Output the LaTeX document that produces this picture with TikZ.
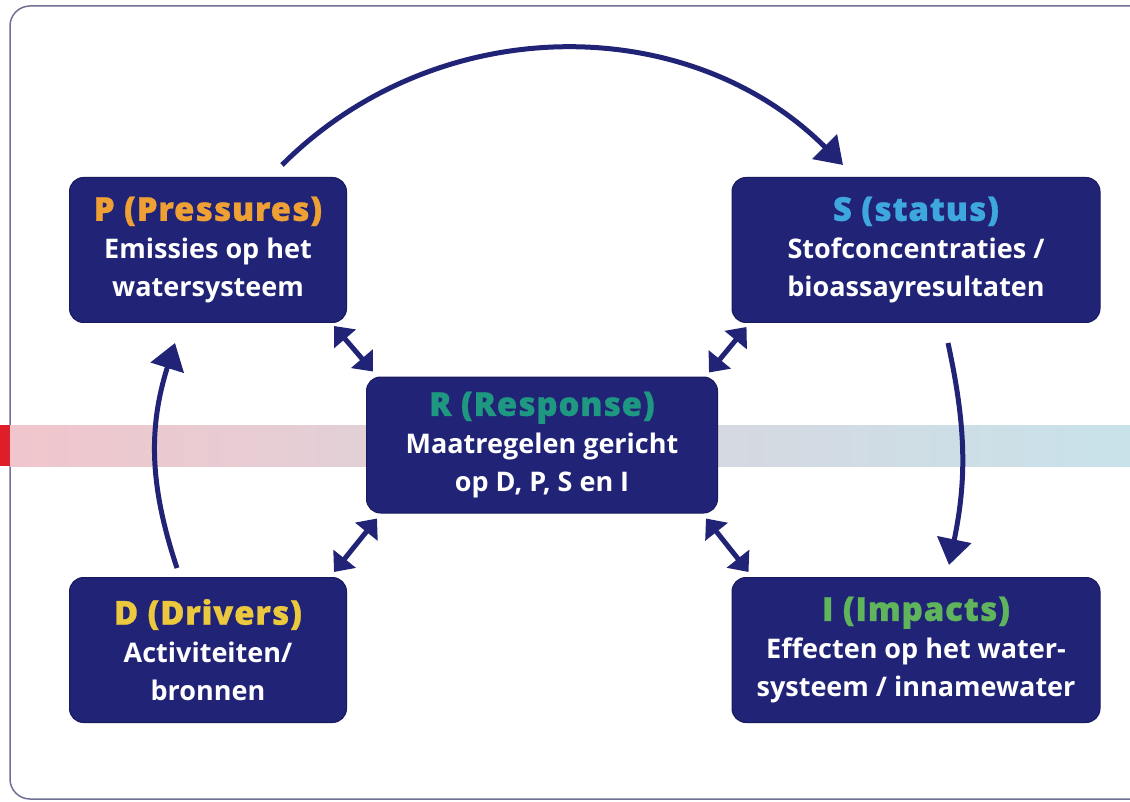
\documentclass[tikz,border=0pt]{standalone}
\usepackage{fontspec}
\setmainfont{Open Sans}
\IfFontExistsTF{Open Sans ExtraBold}
    {\newfontfamily\titlefont{Open Sans ExtraBold}[LetterSpace=2]\newcommand\titlestyle{\titlefont\fontsize{32}{38}\selectfont}}
    {\IfFontExistsTF{Open Sans Bold}
        {\newfontfamily\titlefont{Open Sans Bold}[LetterSpace=2.5, FakeBold=0.8]\newcommand\titlestyle{\titlefont\fontsize{33}{38}\selectfont}}
        {\newfontfamily\titlefont{Open Sans}[LetterSpace=3]\newcommand\titlestyle{\titlefont\bfseries\fontsize{33}{38}\selectfont}}}
\usetikzlibrary{arrows.meta,positioning}
\definecolor{dpsir-navy}{RGB}{33, 36, 118}
\definecolor{dpsir-edge}{RGB}{24, 26, 92}
\definecolor{dpsir-frame}{RGB}{112, 112, 150}
\definecolor{dpsir-orange}{RGB}{238, 160, 52}
\definecolor{dpsir-blue}{RGB}{62, 168, 222}
\definecolor{dpsir-teal}{RGB}{30, 152, 128}
\definecolor{dpsir-yellow}{RGB}{236, 200, 62}
\definecolor{dpsir-green}{RGB}{96, 180, 92}
\definecolor{bar-red}{RGB}{222, 30, 40}
\definecolor{bar-pink}{RGB}{240, 198, 204}
\definecolor{bar-grey}{RGB}{214, 216, 224}
\definecolor{bar-blue}{RGB}{200, 226, 234}

\begin{document}
\begin{tikzpicture}[
        x=1pt, y=-1pt,
        box/.style={draw=dpsir-edge, fill=dpsir-navy, line width=1pt, rounded corners=14pt, minimum height=145pt, align=center, text=white, inner sep=0pt, font=\bfseries\fontsize{27}{38}\selectfont},
        flow/.style={-{Triangle[length=26pt, width=34pt]}, line width=5pt, dpsir-navy},
        twoway/.style={{Triangle[length=17pt, width=28pt]}-{Triangle[length=17pt, width=28pt]}, line width=5pt, dpsir-navy}
    ]
        \useasboundingbox (0,0) rectangle (1130,802);
        
        % Background frame and bar
        \draw[dpsir-frame, line width=1.5pt, rounded corners=20pt] (10,6) rectangle (1160,799);
        \fill[bar-red] (0,425) rectangle (10,466);
        \shade[left color=bar-pink, right color=bar-grey] (10,425) rectangle (700,466);
        \shade[left color=bar-grey, right color=bar-blue] (700,425) rectangle (1130,466);
        
        % DPSIR boxes
        \node[box, minimum width=277pt] (P) at (208,250) {{\titlestyle\color{dpsir-orange}P (Pressures)}\\Emissies op het\\watersysteem};
        \node[box, minimum width=368pt] (S) at (916,250) {{\titlestyle\color{dpsir-blue}S (status)}\\Stofconcentraties /\\bioassayresultaten};
        \node[box, minimum width=351pt, minimum height=136pt] (R) at (542,445) {{\titlestyle\color{dpsir-teal}R (Response)}\\Maatregelen gericht\\op D, P, S en I};
        \node[box, minimum width=277pt] (D) at (208,650) {{\titlestyle\color{dpsir-yellow}D (Drivers)}\\Activiteiten/\\bronnen};
        \node[box, minimum width=368pt] (I) at (916,650) {{\titlestyle\color{dpsir-green}I (Impacts)}\\Effecten op het water-\\systeem / innamewater};
        
        % Main cycle
        \draw[flow] ([shift={(74,-12)}]P.north) to[bend left=45] ([shift={(-73,-12)}]S.north);
        \draw[flow] ([shift={(32,20)}]S.south) to[bend left=12] ([shift={(33,-12)}]I.north);
        \draw[flow] ([shift={(-31,-9)}]D.north) to[bend left=18] ([shift={(-33,20)}]P.south);
        
        % Links with the response
        \draw[twoway] ([shift={(-13,3)}]P.south east) -- ([shift={(7,-5)}]R.north west);
        \draw[twoway] ([shift={(15,4)}]S.south west) -- ([shift={(-9,-4)}]R.north east);
        \draw[twoway] ([shift={(11,5)}]R.south west) -- ([shift={(-13,-5)}]D.north east);
        \draw[twoway] ([shift={(-12,5)}]R.south east) -- ([shift={(17,-5)}]I.north west);
    \end{tikzpicture}
\end{document}
